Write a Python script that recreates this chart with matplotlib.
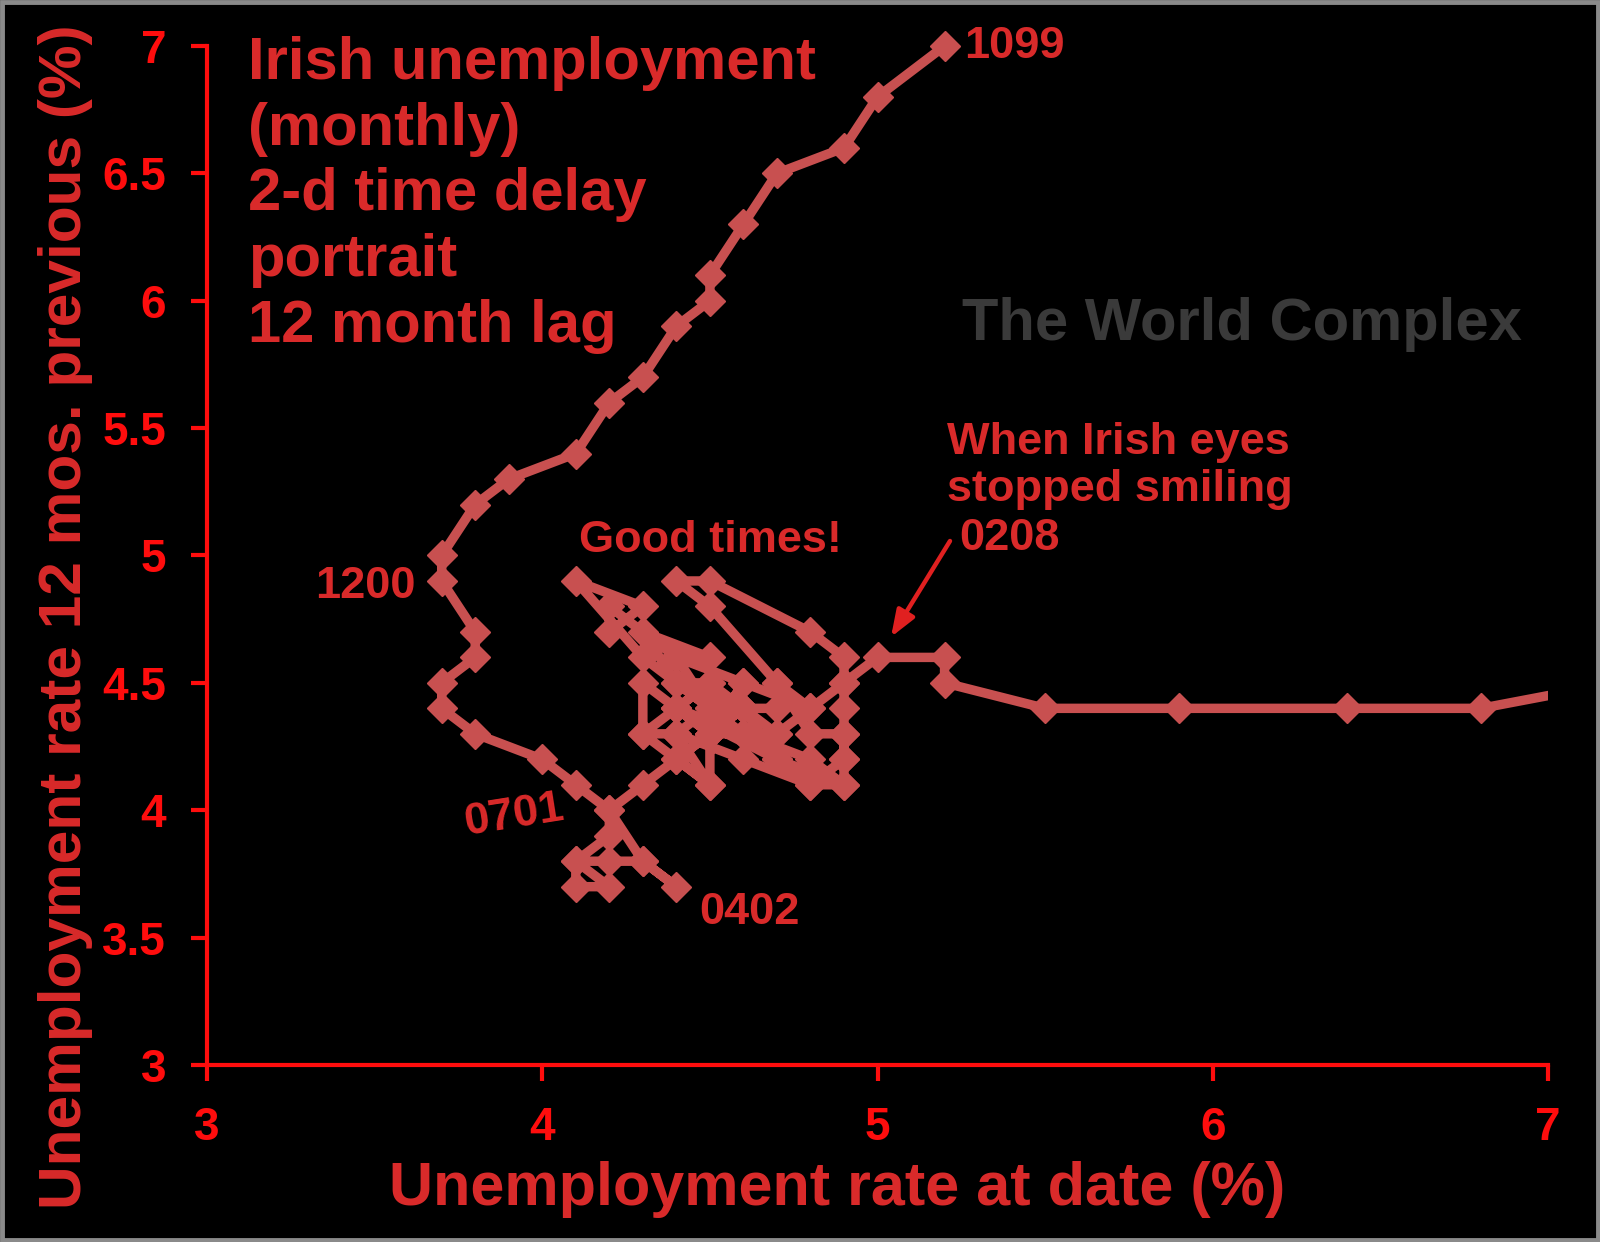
import matplotlib
matplotlib.use("Agg")
import matplotlib.pyplot as plt
from matplotlib.patches import Rectangle

plt.rcParams['font.family'] = ['Liberation Sans', 'DejaVu Sans']
plt.rcParams['font.weight'] = 'bold'

# Unemployment rate at date (%)
x_rate = [
    5.2, 5.0, 4.9, 4.7, 4.6, 4.5, 4.5, 4.4, 4.3, 4.2, 4.1, 3.9, 3.8, 3.7, 3.7,
    3.8, 3.8, 3.7, 3.7, 3.8, 4.0, 4.1, 4.2, 4.2, 4.1, 4.1, 4.2, 4.1, 4.2, 4.3, 4.4,
    4.3, 4.2, 4.3, 4.4, 4.5, 4.5, 4.4, 4.3, 4.3, 4.4, 4.6, 4.8, 4.9, 4.9, 4.8, 4.7,
    4.7, 4.5, 4.3, 4.1, 4.3, 4.2, 4.2, 4.4, 4.5, 4.3, 4.4, 4.6, 4.5, 4.4, 4.7, 4.9,
    4.8, 4.6, 4.4, 4.5, 4.3, 4.5, 4.4, 4.6, 4.5, 4.4, 4.5, 4.6, 4.8, 4.7, 4.5, 4.4,
    4.5, 4.8, 4.9, 4.9, 4.9, 4.9, 4.9, 4.9, 4.8, 4.6, 4.4, 4.5, 4.4, 4.6, 4.5, 4.7,
    4.6, 4.7, 4.7, 4.8, 4.9,
    5.0, 5.2, 5.2, 5.5, 5.9, 6.4, 6.8, 7.2,
]
# Unemployment rate 12 months previous (%)
y_rate_prev = [
    7.0, 6.8, 6.6, 6.5, 6.3, 6.1, 6.0, 5.9, 5.7, 5.6, 5.4, 5.3, 5.2, 5.0, 4.9,
    4.7, 4.6, 4.5, 4.4, 4.3, 4.2, 4.1, 4.0, 3.9, 3.8, 3.7, 3.7, 3.8, 3.8, 3.8, 3.7,
    3.8, 4.0, 4.1, 4.2, 4.3, 4.1, 4.3, 4.3, 4.5, 4.4, 4.3, 4.1, 4.2, 4.3, 4.3, 4.5,
    4.4, 4.4, 4.6, 4.9, 4.8, 4.7, 4.8, 4.6, 4.6, 4.7, 4.5, 4.4, 4.3, 4.4, 4.2, 4.1,
    4.2, 4.3, 4.5, 4.5, 4.3, 4.1, 4.2, 4.4, 4.5, 4.4, 4.3, 4.5, 4.4, 4.5, 4.8, 4.9,
    4.9, 4.7, 4.6, 4.5, 4.4, 4.3, 4.2, 4.1, 4.1, 4.2, 4.3, 4.4, 4.6, 4.5, 4.3, 4.3,
    4.4, 4.2, 4.3, 4.4, 4.5,
    4.6, 4.6, 4.5, 4.4, 4.4, 4.4, 4.4, 4.5,
]

x_ticks = [3, 4, 5, 6, 7]
x_tick_labels = ['3', '4', '5', '6', '7']
y_ticks = [3, 3.5, 4, 4.5, 5, 5.5, 6, 6.5, 7]
y_tick_labels = ['3', '3.5', '4', '4.5', '5', '5.5', '6', '6.5', '7']

title_lines = ['Irish unemployment', '(monthly)', '2-d time delay', 'portrait', '12 month lag']
date_labels = ['1099', '1200', '0701', '0402']

BG = 'black'
AXIS_RED = '#ff0d0d'
TEXT_RED = '#d92a2a'
LINE_RED = '#c85050'
W, H = 1600, 1242
X_MIN, X_MAX, Y_MIN, Y_MAX = 3, 7, 3, 7


def fx(px):
    return px / W


def fy(py):
    return 1 - py / H


fig = plt.figure(figsize=(16, 12.42), dpi=100, facecolor=BG)
ax = fig.add_axes([0.1294, 0.1425, 0.8381, 0.8205])
ax.set_facecolor(BG)

# connecting line: clipped only at the right edge of the plot area
line, = ax.plot(x_rate, y_rate_prev, color=LINE_RED, lw=6.8,
                solid_joinstyle='round', solid_capstyle='round', zorder=3)
clip_rect = Rectangle((X_MIN - 0.5, Y_MIN - 0.5), (X_MAX - X_MIN) + 0.5,
                      (Y_MAX - Y_MIN) + 1.0, transform=ax.transData,
                      fill=False, visible=False)
ax.add_patch(clip_rect)
line.set_clip_path(clip_rect)
# diamond markers for the points inside the plot range (not clipped)
in_x = [xv for xv, yv in zip(x_rate, y_rate_prev) if xv <= X_MAX and yv <= Y_MAX]
in_y = [yv for xv, yv in zip(x_rate, y_rate_prev) if xv <= X_MAX and yv <= Y_MAX]
ax.plot(in_x, in_y, ls='none', marker='D', ms=15, mfc=LINE_RED, mec=LINE_RED,
        zorder=4, clip_on=False)

ax.set_xlim(X_MIN, X_MAX)
ax.set_ylim(Y_MIN, Y_MAX)
for s in ['top', 'right']:
    ax.spines[s].set_visible(False)
for s in ['left', 'bottom']:
    ax.spines[s].set_color(AXIS_RED)
    ax.spines[s].set_linewidth(3.0)
ax.set_xticks(x_ticks)
ax.set_xticklabels(x_tick_labels)
ax.set_yticks(y_ticks)
ax.set_yticklabels(y_tick_labels)
ax.tick_params(axis='both', colors=AXIS_RED, length=11.5, width=3.0,
               direction='out', labelsize=33)
ax.tick_params(axis='x', pad=18)
ax.tick_params(axis='y', pad=18)
for lab in ax.get_xticklabels() + ax.get_yticklabels():
    lab.set_fontweight('bold')
    lab.set_color(AXIS_RED)

# axis labels
fig.text(fx(837), fy(1189), 'Unemployment rate at date (%)', color=TEXT_RED,
         fontsize=44, fontweight='bold', ha='center', va='center')
fig.text(fx(66), fy(617), 'Unemployment rate 12 mos. previous (%)', color=TEXT_RED,
         fontsize=43.5, fontweight='bold', ha='center', va='center', rotation=90)

# title block
fig.text(fx(248), fy(36), '\n'.join(title_lines), color=TEXT_RED,
         fontsize=43, fontweight='bold', ha='left', va='top', linespacing=1.25)

# watermark
fig.text(fx(1242), fy(324), 'The World Complex', color='#3a3a3a',
         fontsize=43, fontweight='bold', ha='center', va='center')

# annotations
fig.text(fx(947), fy(466), 'When Irish eyes\nstopped smiling',
         color=TEXT_RED, fontsize=32.5, fontweight='bold', ha='left', va='center',
         linespacing=1.21)
fig.text(fx(959), fy(539), '0208', color=TEXT_RED, fontsize=32.5,
         fontweight='bold', ha='left', va='center')
ax.annotate('', xy=(fx(891), fy(637)), xycoords='figure fraction',
            xytext=(fx(950), fy(541)), textcoords='figure fraction',
            arrowprops=dict(arrowstyle='-|>,head_length=1.6,head_width=0.6',
                            color='#e02020', lw=3.2, shrinkA=0, shrinkB=0))
fig.text(fx(579), fy(541), 'Good times!', color=TEXT_RED, fontsize=32.5,
         fontweight='bold', ha='left', va='center')

label_pos = [(964, 46, 'left', 0), (416, 587, 'right', 0), (514, 816, 'center', 9),
             (699, 913, 'left', 0)]
for lab, (px, py, ha, rot) in zip(date_labels, label_pos):
    fig.text(fx(px), fy(py), lab, color=TEXT_RED, fontsize=32.5,
             fontweight='bold', ha=ha, va='center', rotation=rot)

# grey frame
fig.patches.append(Rectangle((0.0015, 0.002), 0.997, 0.996, transform=fig.transFigure,
                             fill=False, edgecolor='#8a8a8a', lw=3.5))

fig.savefig('out.png', dpi=100, facecolor=BG)
